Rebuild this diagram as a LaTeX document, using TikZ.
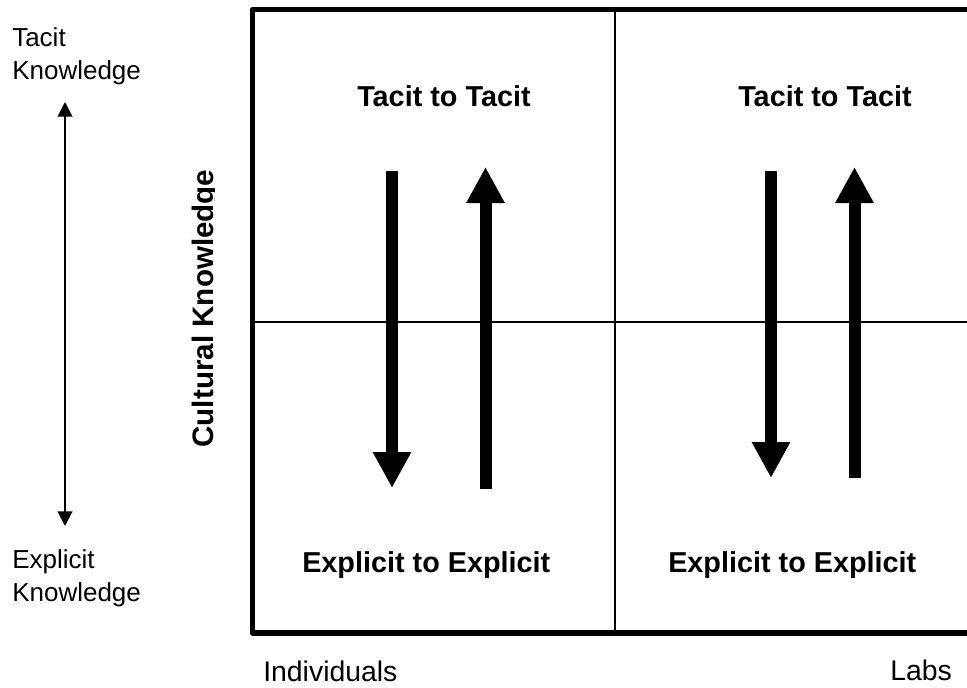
\documentclass[tikz,border=0pt]{standalone}
\usepackage{fontspec}
\setmainfont{Liberation Sans}
\usetikzlibrary{arrows.meta}

\tikzset{
  frame/.style={line width=4.2pt, line join=round},
  gridline/.style={line width=0.8pt},
  flow/.style={line width=9pt, -{Triangle[length=27pt,width=27pt]}},
  axis/.style={line width=1.5pt, {Triangle[length=11pt,width=11pt]}-{Triangle[length=11pt,width=11pt]}},
  quadlabel/.style={font=\fontsize{21.6}{26}\selectfont\bfseries, inner sep=0pt, anchor=base west},
  sidelabel/.style={font=\fontsize{19.5}{24.75}\selectfont, align=left, inner sep=0pt, anchor=north west},
  footlabel/.style={font=\fontsize{21.3}{26}\selectfont, inner sep=0pt, anchor=base west}
}

\begin{document}
\begin{tikzpicture}[x=0.75pt,y=-0.75pt]
\useasboundingbox (0,0) rectangle (967,688);

% open frame and the four quadrants
\draw[frame] (967,9.5) -- (252.5,9.5) -- (252.5,633) -- (967,633);
\draw[gridline] (615,9.5) -- (615,633);
\draw[gridline] (252.5,322) -- (967,322);

% vertical scale on the left
\node[sidelabel] (tacit) at (12,27) {Tacit\\Knowledge};
\node[sidelabel] (explicit) at (12,549) {Explicit\\Knowledge};
\coordinate (scaletop) at (65,102);
\coordinate (scalebot) at (65,526);
\draw[axis] (scalebot) -- (scaletop);

% rotated side title, cut at its baseline
\begin{scope}
  \clip (150,0) rectangle (214,688);
  \node[rotate=90, anchor=base, inner sep=0pt, font=\fontsize{22.2}{26}\selectfont\bfseries] (cultural) at (213.3,308.5) {Cultural Knowledge};
\end{scope}

% quadrant titles
\node[quadlabel] (ttleft) at (357,107) {Tacit to Tacit};
\node[quadlabel] (ttright) at (738,107) {Tacit to Tacit};
\node[quadlabel] (eeleft) at (302,572) {Explicit to Explicit};
\node[quadlabel] (eeright) at (668,572) {Explicit to Explicit};

% thick arrows, down and up
\coordinate (ldtop) at (392,171);
\coordinate (ldbot) at (392,488);
\coordinate (lubot) at (485.5,489);
\coordinate (lutop) at (485.5,167);
\coordinate (rdtop) at (771,171);
\coordinate (rdbot) at (771,478);
\coordinate (rubot) at (854.5,478);
\coordinate (rutop) at (854.5,167);
\draw[flow] (ldtop) -- (ldbot);
\draw[flow] (lubot) -- (lutop);
\draw[flow] (rdtop) -- (rdbot);
\draw[flow] (rubot) -- (rutop);

% axis names along the bottom
\node[footlabel] (individuals) at (263,681) {Individuals};
\node[footlabel] (labs) at (890,680) {Labs};
\end{tikzpicture}
\end{document}
